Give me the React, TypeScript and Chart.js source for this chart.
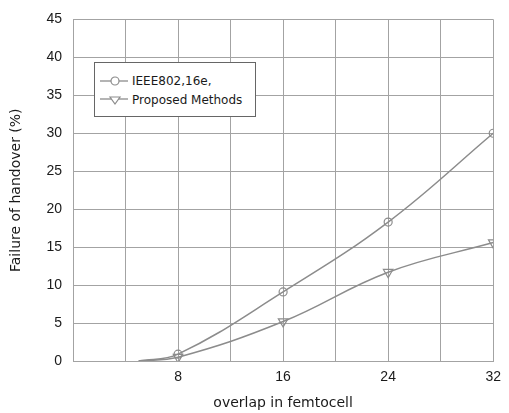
import React, { useEffect, useRef } from 'react';
import { Chart, registerables } from 'chart.js';

Chart.register(...registerables);

// Data
const xValues = [5, 8, 16, 24, 32];
const ieeeValues = [0, 0.9, 9.1, 18.3, 30.0];
const proposedValues = [0, 0.5, 5.2, 11.7, 15.6];
const xTickLabels = [8, 16, 24, 32];
const seriesNames = ['IEEE802,16e,', 'Proposed Methods'];
const xTitle = 'overlap in femtocell';
const yTitle = 'Failure of handover (%)';

const GRID = '#a3a3a3';
const LINE = '#8c8c8c';
const TEXT = '#1a1a1a';

export default function App() {
  const canvasRef = useRef<HTMLCanvasElement | null>(null);

  useEffect(() => {
    document.body.style.margin = '0';
    const canvas = canvasRef.current;
    if (!canvas) return;

    const toPoints = (vals: number[]) => xValues.map((x, i) => ({ x, y: vals[i] }));

    const chart = new Chart(canvas, {
      type: 'line',
      data: {
        datasets: [
          {
            label: seriesNames[0],
            data: toPoints(ieeeValues),
            borderColor: LINE,
            borderWidth: 1.5,
            backgroundColor: 'rgba(255,255,255,0)',
            pointBorderColor: LINE,
            pointBackgroundColor: 'rgba(255,255,255,0)',
            pointBorderWidth: 1.2,
            pointStyle: 'circle',
            pointRadius: (c: any) => (c.dataIndex === 0 ? 0 : 4),
            tension: 0.4,
            fill: false,
          },
          {
            label: seriesNames[1],
            data: toPoints(proposedValues),
            borderColor: LINE,
            borderWidth: 1.5,
            backgroundColor: 'rgba(255,255,255,0)',
            pointBorderColor: LINE,
            pointBackgroundColor: 'rgba(255,255,255,0)',
            pointBorderWidth: 1.2,
            pointStyle: 'triangle',
            rotation: 180,
            pointRadius: (c: any) => (c.dataIndex === 0 ? 0 : 5.5),
            tension: 0.4,
            fill: false,
          },
        ],
      },
      options: {
        responsive: false,
        animation: false,
        layout: { padding: { top: 14, right: 9, left: 0, bottom: 0 } },
        plugins: {
          legend: { display: false },
          tooltip: { enabled: false },
        },
        scales: {
          x: {
            type: 'linear',
            min: 0,
            max: 32,
            afterFit: (s: any) => {
              s.height = 52;
            },
            ticks: {
              stepSize: 4,
              autoSkip: false,
              maxRotation: 0,
              padding: 8,
              color: TEXT,
              font: { family: '"Liberation Sans", Arial, sans-serif', size: 14 },
              callback: (v: any) => (xTickLabels.includes(Number(v)) ? String(v) : ''),
            },
            grid: { color: GRID, lineWidth: 1, drawTicks: false },
            border: { color: GRID, width: 1 },
            title: {
              display: true,
              text: xTitle,
              color: TEXT,
              font: { family: '"DejaVu Sans", sans-serif', size: 14 },
              padding: { top: 0, bottom: 1 },
            },
          },
          y: {
            min: 0,
            max: 45,
            afterFit: (s: any) => {
              s.width = 73;
            },
            ticks: {
              stepSize: 5,
              padding: 11,
              color: TEXT,
              font: { family: '"Liberation Sans", Arial, sans-serif', size: 14 },
            },
            grid: { color: GRID, lineWidth: 1, drawTicks: false },
            border: { color: GRID, width: 1 },
            title: {
              display: true,
              text: yTitle,
              color: TEXT,
              font: { family: '"DejaVu Sans", sans-serif', size: 14 },
              padding: { top: 8, bottom: 0 },
            },
          },
        },
      },
    } as any);

    return () => chart.destroy();
  }, []);

  const legendFont = '"DejaVu Sans", sans-serif';

  return (
    <div style={{ position: 'relative', width: 509, height: 413, background: '#fff' }}>
      <canvas ref={canvasRef} width={509} height={413} style={{ display: 'block' }} />
      <div
        style={{
          position: 'absolute',
          left: 94,
          top: 62,
          width: 160,
          height: 53,
          border: '1px solid #666',
          background: '#fff',
          fontFamily: legendFont,
          fontSize: 12,
          color: TEXT,
        }}
      >
        <div style={{ position: 'absolute', left: 5, top: 11, display: 'flex', alignItems: 'center', height: 14 }}>
          <svg width={28} height={14} style={{ display: 'block' }}>
            <line x1={0} y1={7} x2={28} y2={7} stroke={LINE} strokeWidth={1.3} />
            <circle cx={15} cy={7} r={4} fill="#fff" stroke={LINE} strokeWidth={1.2} />
          </svg>
          <span style={{ marginLeft: 4, whiteSpace: 'nowrap' }}>{seriesNames[0]}</span>
        </div>
        <div style={{ position: 'absolute', left: 5, top: 30, display: 'flex', alignItems: 'center', height: 14 }}>
          <svg width={28} height={14} style={{ display: 'block' }}>
            <line x1={0} y1={6} x2={28} y2={6} stroke={LINE} strokeWidth={1.3} />
            <polygon points="10,4 20,4 15,11" fill="#fff" stroke={LINE} strokeWidth={1.2} />
          </svg>
          <span style={{ marginLeft: 4, whiteSpace: 'nowrap' }}>{seriesNames[1]}</span>
        </div>
      </div>
    </div>
  );
}
